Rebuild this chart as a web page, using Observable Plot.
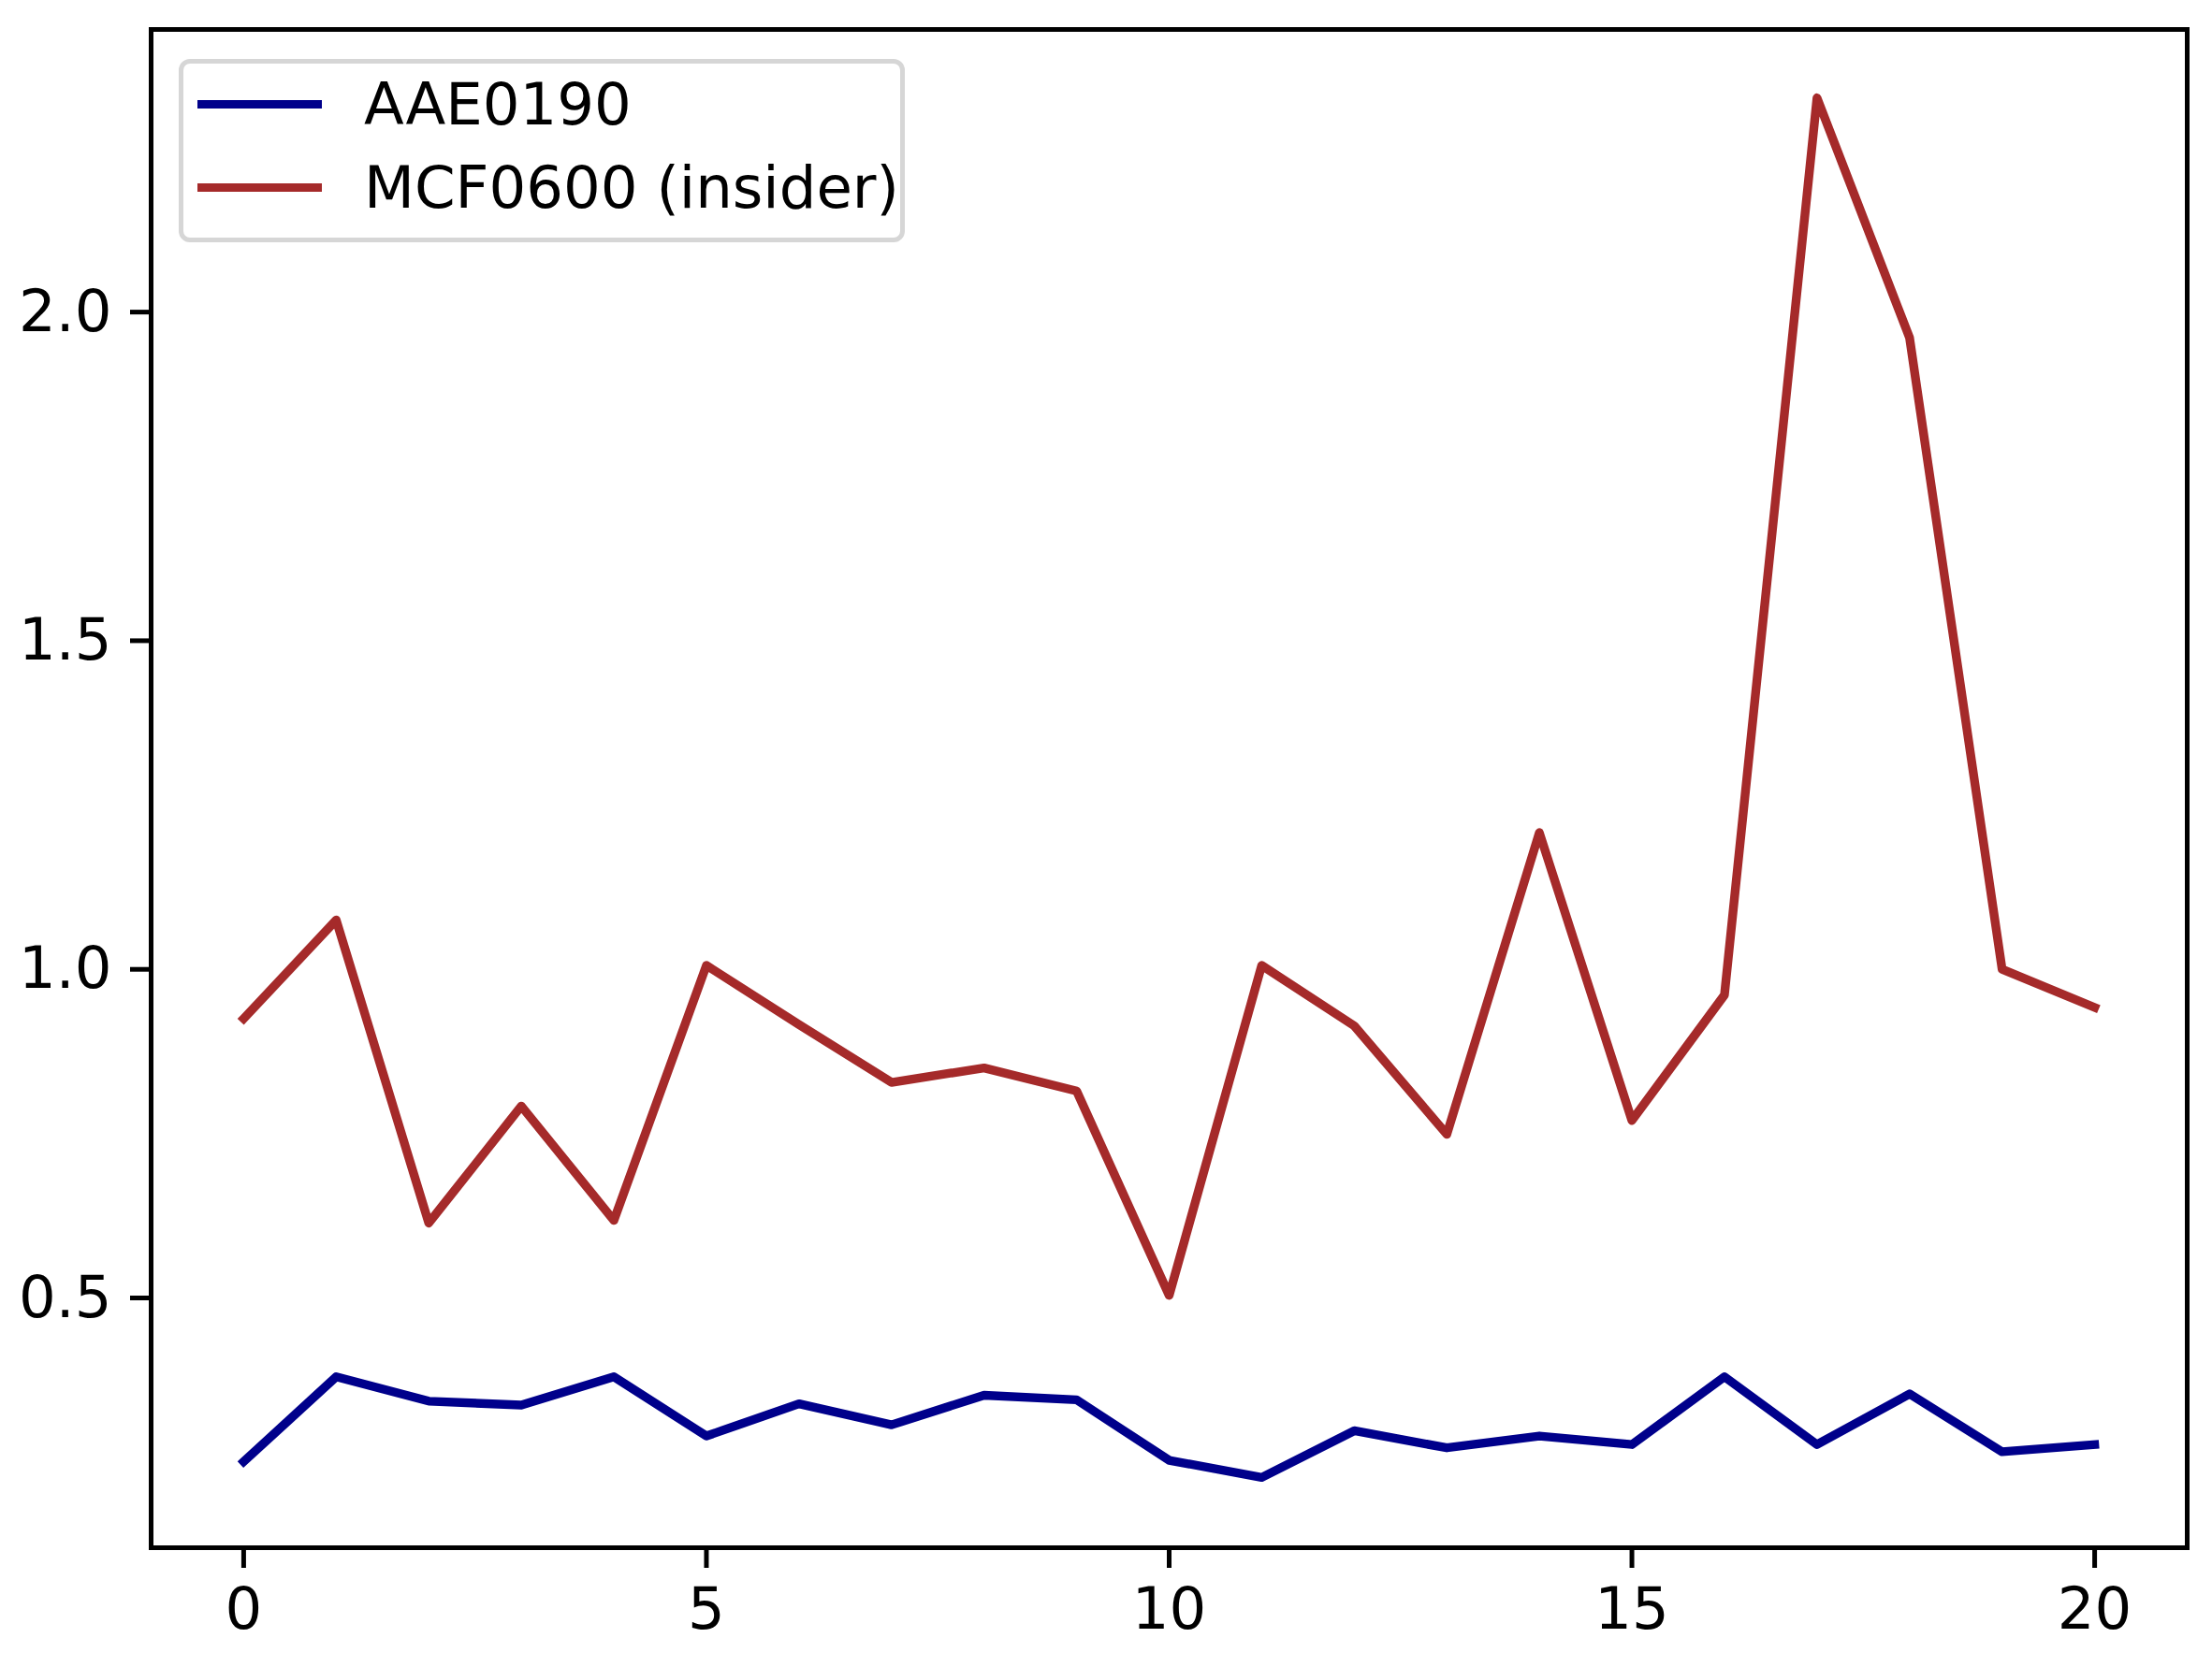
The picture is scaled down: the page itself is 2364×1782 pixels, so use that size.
<!DOCTYPE html>
<html lang="en">
  <head>
    <meta charset="UTF-8" />
    <title>AAE0190 vs MCF0600</title>
    <style>
      body { margin: 0; background: #fff; font-family: "DejaVu Sans", sans-serif; }
      #chart { position: relative; width: 2364px; height: 1782px; }
      .legend {
        position: absolute; left: 191px; top: 63px; width: 776px; height: 196px;
        box-sizing: border-box; border: 5px solid #d6d6d6; border-radius: 12px;
        background: #fff; font-size: 62.5px;
      }
      .legend .row {
        position: absolute; left: 15px; height: 73px; line-height: 73px;
        display: flex; align-items: center; white-space: nowrap;
      }
      .legend .swatch { width: 133px; height: 9.4px; margin-right: 45px; }
    </style>
  </head>
  <body>
    <div id="chart"></div>

    <script src="https://cdn.jsdelivr.net/npm/d3@7"></script>
    <script src="https://cdn.jsdelivr.net/npm/@observablehq/plot@0.6"></script>

    <script>
      const steps = [0, 1, 2, 3, 4, 5, 6, 7, 8, 9, 10, 11, 12, 13, 14, 15, 16, 17, 18, 19, 20];
      const aae0190 = [0.251, 0.380, 0.343, 0.337, 0.380, 0.290, 0.339, 0.307, 0.352, 0.345,
                       0.253, 0.227, 0.298, 0.272, 0.290, 0.277, 0.380, 0.277, 0.354, 0.266, 0.277];
      const mcf0600 = [0.925, 1.075, 0.614, 0.792, 0.618, 1.006, 0.916, 0.828, 0.850, 0.815,
                       0.504, 1.006, 0.914, 0.749, 1.208, 0.770, 0.961, 2.326, 1.961, 1.000, 0.942];
      const seriesNames = ["AAE0190", "MCF0600 (insider)"];
      const seriesColors = ["#00008b", "#a52a2a"];
      const yTicks = [0.5, 1.0, 1.5, 2.0];
      const xTicks = [0, 5, 10, 15, 20];

      const rows = [];
      [aae0190, mcf0600].forEach((vals, i) => {
        vals.forEach((v, j) => rows.push({ step: steps[j], value: v, series: seriesNames[i] }));
      });

      const plot = Plot.plot({
        width: 2364,
        height: 1782,
        marginLeft: 161,
        marginRight: 27,
        marginTop: 31,
        marginBottom: 128,
        style: { fontFamily: "DejaVu Sans", fontSize: "62.5px", color: "#000", background: "#fff" },
        x: { domain: [-1, 21] },
        y: { domain: [0.12, 2.43] },
        color: { domain: seriesNames, range: seriesColors },
        marks: [
          Plot.lineY(rows, {
            x: "step", y: "value", stroke: "series", z: "series",
            strokeWidth: 9.4, strokeLinejoin: "round", strokeLinecap: "square"
          }),
          Plot.axisX({
            ticks: xTicks, tickSize: 22, tickPadding: 20, strokeWidth: 5,
            fontSize: 62.5, label: null, tickFormat: d3.format("d")
          }),
          Plot.axisY({
            ticks: yTicks, tickSize: 22, tickPadding: 20, strokeWidth: 5,
            fontSize: 62.5, label: null, tickFormat: d3.format(".1f")
          }),
          Plot.frame({ stroke: "#000", strokeWidth: 5 })
        ]
      });

      const chart = document.querySelector("#chart");
      chart.append(plot);

      const legend = document.createElement("div");
      legend.className = "legend";
      seriesNames.forEach((name, i) => {
        const row = document.createElement("div");
        row.className = "row";
        row.style.top = (i === 0 ? 7 : 96) + "px";
        row.innerHTML = `<span class="swatch" style="background:${seriesColors[i]}"></span><span>${name}</span>`;
        legend.append(row);
      });
      chart.append(legend);
    </script>
  </body>
</html>
